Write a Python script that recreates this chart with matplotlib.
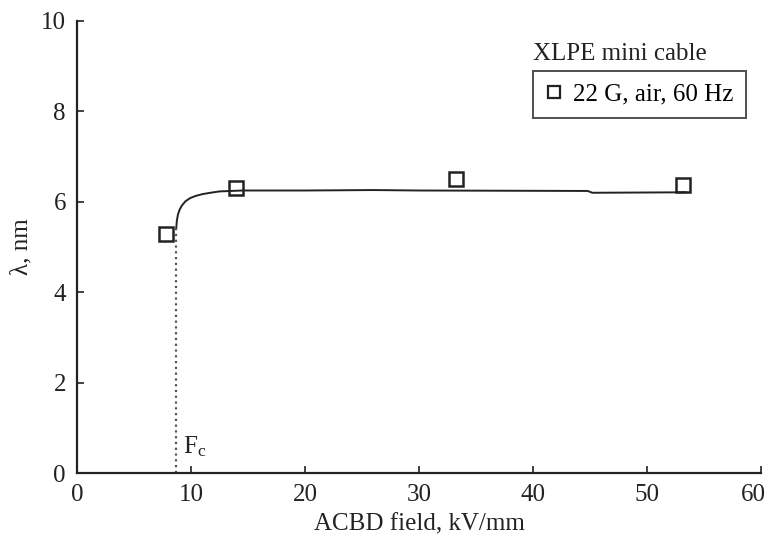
import numpy as np
import matplotlib
matplotlib.use("Agg")
import matplotlib.pyplot as plt
import matplotlib.transforms as mtransforms

# measured points
field_pts = [7.8, 13.9, 33.2, 53.2]
lam_pts = [5.29, 6.31, 6.51, 6.38]

# fitted curve
curve_x = [8.7, 8.75, 8.85, 9.0, 9.2, 9.5, 9.9, 10.4, 11.0, 11.7, 12.5, 13.5, 14.5, 20.0, 26.0, 30.0, 44.8, 45.2, 53.4]
curve_y = [5.42, 5.58, 5.72, 5.83, 5.92, 6.01, 6.08, 6.13, 6.17, 6.20, 6.23, 6.24, 6.25, 6.25, 6.26, 6.25, 6.24, 6.20, 6.21]

fc = 8.7
fc_top = 5.42

FS = 18
plt.rcParams['font.family'] = ['Liberation Serif', 'DejaVu Serif']
plt.rcParams['mathtext.fontset'] = 'stix'

fig = plt.figure(figsize=(7.71, 5.37), dpi=100)
ax = fig.add_axes([0.1, 0.119, 0.887, 0.842])

ax.plot(curve_x, curve_y, color='#222222', lw=1.4)
ax.plot([fc, fc], [0, fc_top], color='#555555', lw=1.6, ls=(0, (1, 1.6)))
ax.plot(field_pts, lam_pts, ls='none', marker='s', ms=10, mfc='none',
        mec='#222222', mew=1.8)

ax.text(fc + 0.55, 0.42, r'F$_\mathregular{c}$', fontsize=FS, color='#222222')

ax.set_xlim(0, 60)
ax.set_ylim(0, 10)
ax.set_xticks(range(0, 61, 10))
ax.set_yticks(range(0, 11, 2))
ax.tick_params(direction='in', length=5, width=1.2, labelsize=FS, colors='#222222')
ax.tick_params(axis='x', pad=8)
ax.tick_params(axis='y', pad=8)
for s in ['top', 'right']:
    ax.spines[s].set_visible(False)
for s in ['left', 'bottom']:
    ax.spines[s].set_linewidth(1.6)
    ax.spines[s].set_color('#222222')

# last x label sits a bit left of its tick, like the original
lbl = ax.get_xticklabels()[-1]
lbl.set_transform(lbl.get_transform() + mtransforms.ScaledTranslation(-8 / 100, 0, fig.dpi_scale_trans))

ax.set_xlabel('ACBD field, kV/mm', fontsize=FS, color='#222222', labelpad=5)
ax.set_ylabel('λ, nm', fontsize=FS, color='#222222', labelpad=6)

# legend with its title outside the frame
ax.text(0.691, 0.888, 'XLPE mini cable', transform=fig.transFigure, fontsize=FS,
        color='#222222', va='baseline')
h, = ax.plot([], [], ls='none', marker='s', ms=8, mfc='none', mec='#222222', mew=1.6)
leg = ax.legend([h], ['22 G, air, 60 Hz'], loc='upper left', bbox_to_anchor=(0.691, 0.868),
                bbox_transform=fig.transFigure, fontsize=FS, frameon=True, fancybox=False,
                handlelength=0.7, handletextpad=0.4, borderpad=0.5, borderaxespad=0)
leg.get_frame().set_edgecolor('#222222')
leg.get_frame().set_linewidth(1.4)

fig.savefig('out.png', dpi=100)
